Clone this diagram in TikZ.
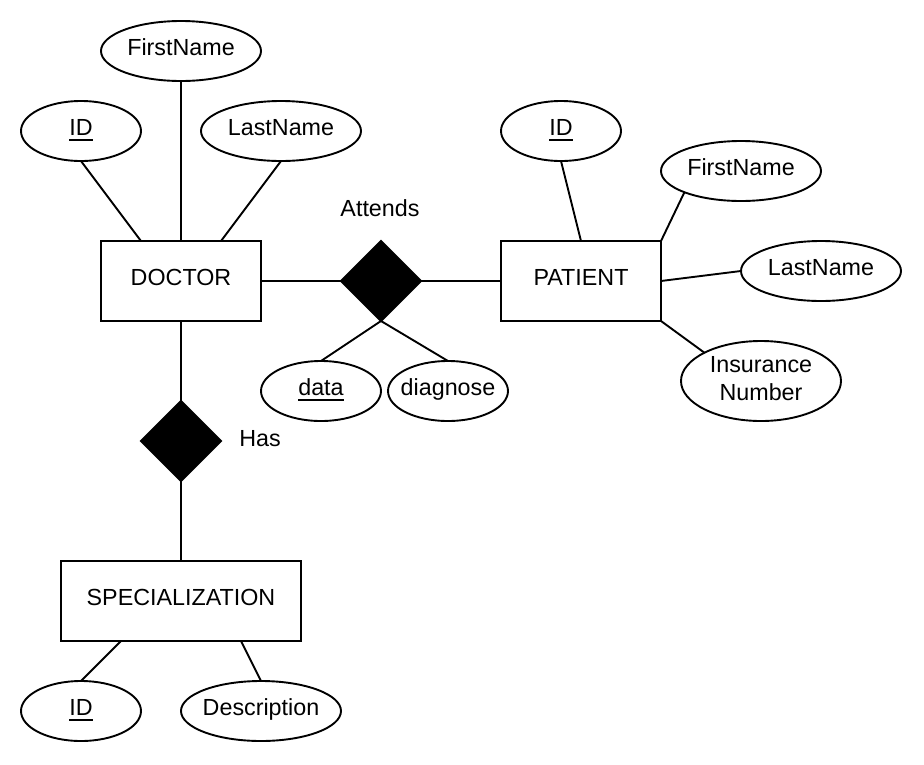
\documentclass[tikz,border=0pt]{standalone}
\usepackage{fontspec}
\setmainfont{Liberation Sans}
\usetikzlibrary{shapes.geometric}
\newcommand\keyattr[1]{\setbox0\hbox{#1}\leavevmode\rlap{\rule[-5pt]{\wd0}{1.8pt}}\box0}
\newcommand\zw[1]{\makebox[0pt]{#1}}
\begin{document}
\begin{tikzpicture}[x=1pt,y=-1pt,line width=1.9pt,
  every node/.style={font=\fontsize{23.3}{28}\selectfont,text height=17pt,text depth=8pt,inner sep=0pt,outer sep=0pt},
  entity/.style={draw,rectangle,minimum width=160pt,minimum height=80pt},
  attr/.style={draw,ellipse,minimum width=120pt,minimum height=60pt},
  wattr/.style={attr,minimum width=160pt},
  rel/.style={draw,fill=black,diamond,aspect=1,minimum width=80pt,minimum height=80pt},
  lbl/.style={}]
\useasboundingbox (0,0) rectangle (924,764);
% entities
\node[entity] (doc) at (181,281) {DOCTOR};
\node[entity] (pat) at (581,281) {PATIENT};
\node[entity,minimum width=240pt] (spec) at (181,601) {SPECIALIZATION};
% relationships
\node[rel] (att) at (381,281) {};
\node[rel] (has) at (181,441) {};
\node[lbl] (attl) at (380,212) {Attends};
\node[lbl] (hasl) at (260,442) {Has};
% attributes
\node[wattr] (dfn) at (181,51) {\zw{FirstName}};
\node[attr] (did) at (81,131) {\zw{\keyattr{ID}}};
\node[wattr] (dln) at (281,131) {\zw{LastName}};
\node[attr] (pid) at (561,131) {\zw{\keyattr{ID}}};
\node[wattr] (pfn) at (741,171) {\zw{FirstName}};
\node[wattr] (pln) at (821,271) {\zw{LastName}};
\node[wattr,minimum height=80pt,align=center,text height=,text depth=6pt] (pin) at (761,381) {Insurance\\Number};
\node[attr] (data) at (321,391) {\zw{\keyattr{data}}};
\node[attr] (diag) at (448,391) {\zw{diagnose}};
\node[attr] (sid) at (81,711) {\zw{\keyattr{ID}}};
\node[wattr] (sdesc) at (261,711) {\zw{Description}};
% connectors
\draw (did.south) -- ([xshift=40pt]doc.north west);
\draw (dfn.south) -- (doc.north);
\draw (dln.south) -- ([xshift=-40pt]doc.north east);
\draw (pid.south) -- (pat.north);
\draw (pfn.south west) -- (pat.north east);
\draw (pln.west) -- (pat.east);
\draw (pin.north west) -- (pat.south east);
\draw (doc.east) -- (att.west);
\draw (att.east) -- (pat.west);
\draw (data.north) -- (att.south);
\draw (diag.north) -- (att.south);
\draw (doc.south) -- (has.north);
\draw (has.south) -- (spec.north);
\draw (sid.north) -- ([xshift=60pt]spec.south west);
\draw (sdesc.north) -- ([xshift=-60pt]spec.south east);
\end{tikzpicture}
\end{document}
